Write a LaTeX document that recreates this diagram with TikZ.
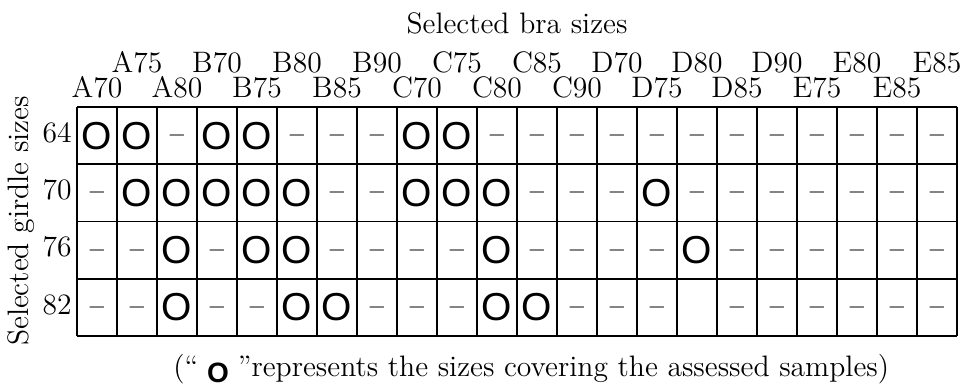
\documentclass[tikz,border=0pt]{standalone}
\usepackage{fontspec}
\newfontfamily\osans{Liberation Sans}
\def\cello{\osans O}
\def\cellm{$-$}
\def\cellb{}
\begin{document}
\begin{tikzpicture}[x=0.5pt,y=-0.5pt,
  lbl/.style={font=\fontsize{14.8}{17}\selectfont, inner sep=0pt},
  mk/.style={font=\osans\fontsize{19.5}{20}\selectfont, inner sep=0pt},
  dsh/.style={font=\fontsize{12.6}{15}\selectfont, inner sep=0pt},
  cello/.style={mk},
  cellm/.style={dsh},
  cellb/.style={dsh},
  gridline/.style={line width=0.9pt}]
\useasboundingbox (0,0) rectangle (965,388);
% grid
\foreach \i in {0,...,22} \draw[gridline] (77+40*\i,107) -- (77+40*\i,336);
\foreach \j in {0,...,4} \draw[gridline] (77,107+57.25*\j) -- (957,107+57.25*\j);
% cells
\foreach \row [count=\j] in {
  {o,o,m,o,o,m,m,m,o,o,m,m,m,m,m,m,m,m,m,m,m,m},
  {m,o,o,o,o,o,m,m,o,o,o,m,m,m,o,m,m,m,m,m,m,m},
  {m,m,o,m,o,o,m,m,m,m,o,m,m,m,m,o,m,m,m,m,m,m},
  {m,m,o,m,m,o,o,m,m,m,o,o,m,m,m,b,m,m,m,m,m,m}} {
  \foreach \v [count=\i] in \row {
    \node[cell\v] (c-\j-\i) at (57+40*\i, 78.375+57.25*\j) {\csname cell\v\endcsname};
  }
}
% column labels
\foreach \t [count=\k] in {A75,B70,B80,B90,C75,C85,D70,D80,D90,E80,E85}
  \node[lbl, anchor=base] (up-\k) at (57+80*\k, 72) {\t};
\foreach \t [count=\k] in {A70,A80,B75,B85,C70,C80,C90,D75,D85,E75,E85}
  \node[lbl, anchor=base] (lo-\k) at (17+80*\k, 97) {\t};
% row labels
\foreach \t [count=\j] in {64,70,76,82}
  \node[lbl, anchor=base east] (r-\j) at (72, 85+57.25*\j) {\t};
% titles
\node[lbl, anchor=base] (title) at (517,33) {Selected bra sizes};
\node[lbl, rotate=90] (ytitle) at (21,221) {Selected girdle sizes};
\node[lbl, anchor=base west] (caption) at (173,376)
  {(``\hspace{0.3em}\raisebox{-3.2pt}{\osans\bfseries\fontsize{14}{15}\selectfont O}\hspace{0.3em}''represents the sizes covering the assessed samples)};
\end{tikzpicture}
\end{document}
